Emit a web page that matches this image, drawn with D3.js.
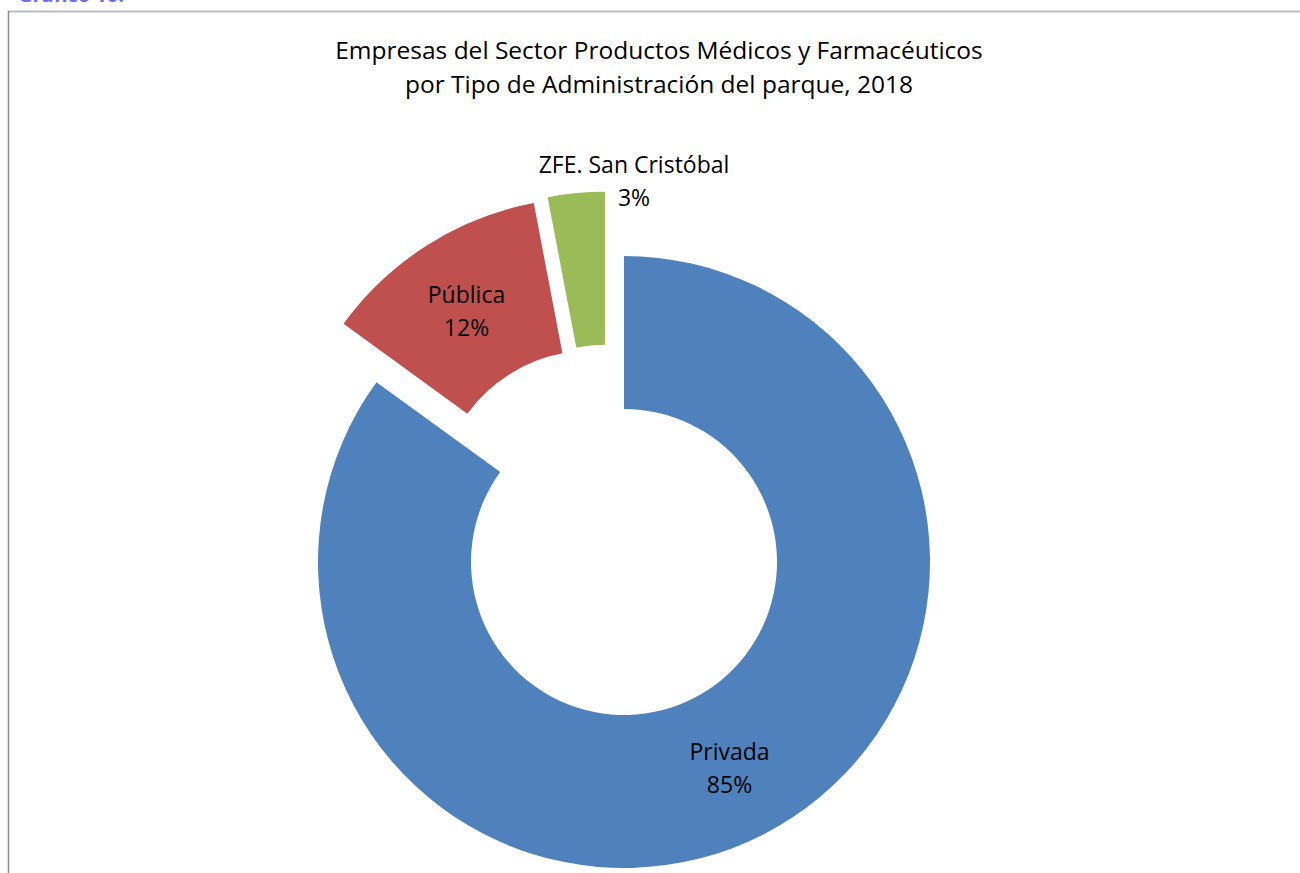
<!DOCTYPE html>
<html><head><meta charset="utf-8">
<script src="https://cdn.jsdelivr.net/npm/d3@7"></script>
<style>body{margin:0;background:#fff;overflow:hidden}text{font-family:"Open Sans","Noto Sans",sans-serif}</style>
</head><body>
<svg id="c" width="1300" height="873"></svg>
<script>
const categories = ["Privada", "Pública", "ZFE. San Cristóbal"];
const values = [85, 12, 3];
const colors = ["#4F81BD", "#C0504D", "#9BBB59"];
const explodeDist = [0, 67, 67];
const explodeAngleDeg = [0, -29.4, -16.5];
const titleLines = ["Empresas del Sector Productos Médicos y Farmacéuticos", "por Tipo de Administración del parque, 2018"];

const svg = d3.select("#c");
// cut-off caption at top-left (clipped in the reference too)
svg.append("text").attr("x", 18).attr("y", 2).attr("font-size", 20).attr("font-weight", "bold")
  .attr("fill", "#6b6bf5").text("Gráfico 10.");
// chart frame
svg.append("line").attr("x1", 8).attr("x2", 1300).attr("y1", 11.5).attr("y2", 11.5).attr("stroke", "#bdbdbd").attr("stroke-width", 2);
svg.append("line").attr("x1", 8.5).attr("x2", 8.5).attr("y1", 11).attr("y2", 873).attr("stroke", "#8c8c8c").attr("stroke-width", 1.5);

const title = svg.append("text").attr("text-anchor", "middle").attr("font-size", 24.5).attr("fill", "#000");
titleLines.forEach((t, i) => title.append("tspan").attr("x", 659).attr("y", 59 + i * 34).text(t));

const cx = 624, cy = 562, R = 306, r = 153;
const pie = d3.pie().sort(null).value(d => d)(values);
const arc = d3.arc().innerRadius(r).outerRadius(R);
const g = svg.append("g").attr("transform", `translate(${cx},${cy})`);
const total = d3.sum(values);

const offsets = values.map((v, i) => {
  const a = explodeAngleDeg[i] * Math.PI / 180;
  return [explodeDist[i] * Math.sin(a), -explodeDist[i] * Math.cos(a)];
});
const slices = g.selectAll("g.s").data(pie).join("g").attr("class", "s")
  .attr("transform", (d, i) => `translate(${offsets[i][0]},${offsets[i][1]})`);
slices.append("path").attr("d", arc).attr("fill", (d, i) => colors[i]);

// label anchors (centre x, first baseline) in chart space
const labelPos = [[729.5, 760], [466.5, 303], [634, 173]];
slices.each(function(d, i) {
  const ox = offsets[i][0] + cx, oy = offsets[i][1] + cy;
  const t = d3.select(this).append("text").attr("text-anchor", "middle").attr("font-size", 23).attr("fill", "#000");
  t.append("tspan").attr("x", labelPos[i][0] - ox).attr("y", labelPos[i][1] - oy).text(categories[i]);
  t.append("tspan").attr("x", labelPos[i][0] - ox).attr("y", labelPos[i][1] - oy + 33)
    .text(Math.round(values[i] / total * 100) + "%");
});
</script>
</body></html>
